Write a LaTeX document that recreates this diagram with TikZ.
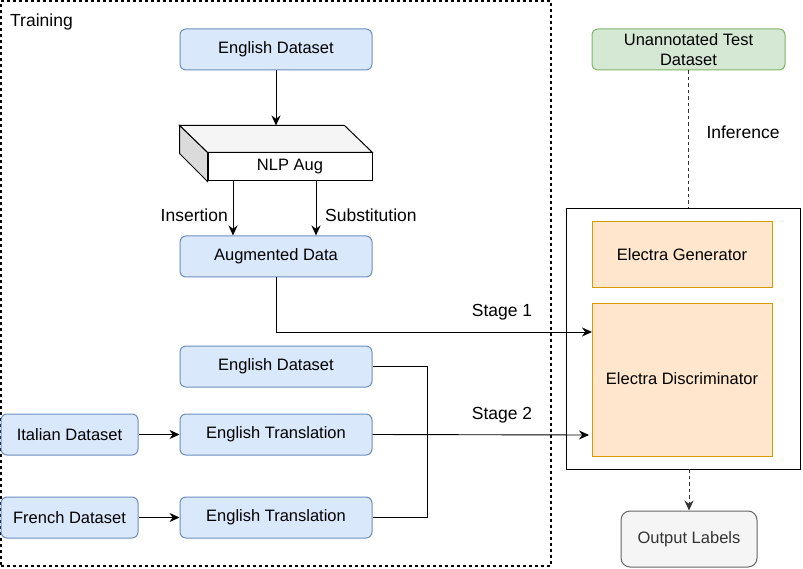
\documentclass[tikz,border=0pt]{standalone}
\usepackage{fontspec}
\setmainfont{Liberation Sans}
\usetikzlibrary{arrows.meta}
\definecolor{blueFill}{HTML}{DAE8FC}
\definecolor{blueLine}{HTML}{6C8EBF}
\definecolor{orangeFill}{HTML}{FFE6CC}
\definecolor{orangeLine}{HTML}{D79B00}
\definecolor{greenFill}{HTML}{D5E8D4}
\definecolor{greenLine}{HTML}{82B366}
\definecolor{greyFill}{HTML}{F5F5F5}
\definecolor{greyLine}{HTML}{666666}
\tikzset{
  databox/.style={draw=blueLine, fill=blueFill, rounded corners=6pt, line width=1pt,
    minimum width=192pt, minimum height=41pt, inner sep=0pt, font=\fontsize{16.5}{19}\selectfont},
  smallbox/.style={databox, minimum width=137pt},
  electrabox/.style={draw=orangeLine, fill=orangeFill, line width=1pt, minimum width=180pt,
    inner sep=0pt, font=\fontsize{16.5}{19}\selectfont},
  lbl/.style={inner sep=0pt, font=\fontsize{17.5}{20}\selectfont},
  arr/.style={line width=0.9pt, -{Stealth[length=10pt,width=9pt]}},
  link/.style={line width=0.9pt},
  dashline/.style={line width=1.5pt, draw=black!80, dash pattern=on 3.5pt off 3pt}
}
\begin{document}
\begin{tikzpicture}[x=1pt, y=-1pt]
			\useasboundingbox (0,0) rectangle (803,569);
			
			%%%%% TRAINING %%%%%
			\node[draw, line width=1.3pt, dash pattern=on 3pt off 3pt, minimum width=550pt, minimum height=565pt, inner sep=0pt] (train) at (276,283.5) {};
			\node[lbl, anchor=north west] (trainlbl) at (10,14) {Training};
			
			\node[databox] (en1) at (276,49.5) {English Dataset};
			
			\node[draw, fill=white, line width=1pt, minimum width=164pt, minimum height=28pt, inner sep=0pt, font=\fontsize{16.5}{19}\selectfont] (nlp) at (290,167) {NLP Aug};
			\draw[line width=1pt, fill=black!4] (nlp.north west) -- ++(-28,-27) -- ++(165,0) -- (nlp.north east) -- cycle;
			\draw[line width=1pt, fill=black!14] (nlp.north west) -- ++(-28,-27) -- ++(0,28) -- (nlp.south west) -- cycle;
			\coordinate (nlptop) at ([xshift=-14pt, yshift=27pt]nlp.north);
			
			\node[databox] (aug) at (276,256.5) {Augmented Data};
			
			\draw[arr] (en1.south) -- (nlptop);
			\draw[arr] ([xshift=-57pt]nlp.south) -- ([xshift=-57pt]nlp.south |- aug.north);
			\draw[arr] ([xshift=26pt]nlp.south) -- ([xshift=26pt]nlp.south |- aug.north);
			\node[lbl, anchor=east] (inslbl) at (228,215) {Insertion};
			\node[lbl, anchor=west] (sublbl) at (325,215) {Substitution};
			
			\node[databox] (en2) at (276,366.5) {English Dataset};
			\node[smallbox] (ita) at (69.5,434.5) {Italian Dataset};
			\node[databox] (tr1) at (276,434.5) {English Translation};
			\node[smallbox] (fre) at (69.5,517.5) {French Dataset};
			\node[databox] (tr2) at (276,517.5) {English Translation};
			
			\draw[arr] (ita) -- (tr1);
			\draw[arr] (fre) -- (tr2);
			\draw[link] (en2.east) -- ++(55,0) |- (tr2.east);
			
			%%%%% MODEL %%%%%
			\node[draw, line width=0.9pt, minimum width=234pt, minimum height=261pt, inner sep=0pt] (model) at (683,338.5) {};
			\node[electrabox, minimum height=66pt] (gen) at (682,255) {Electra Generator};
			\node[electrabox, minimum height=152pt] (disc) at (682,380) {};
			\node[inner sep=0pt, font=\fontsize{16.5}{19}\selectfont] (disclbl) at (682,379) {Electra Discriminator};
			
			\coordinate (s1end) at (592,332);
			\coordinate (s2end) at (589,435);
			\draw[arr] (aug.south) |- (s1end);
			\draw[arr] (tr1.east) -- (s2end);
			\node[lbl] (s1lbl) at (502,312) {Stage 1};
			\node[lbl] (s2lbl) at (502,415) {Stage 2};
			
			%%%%% INFERENCE %%%%%
			\node[draw=greenLine, fill=greenFill, rounded corners=6pt, line width=1pt, minimum width=193pt, minimum height=41pt, inner sep=0pt, align=center, font=\fontsize{16.5}{19.5}\selectfont] (test) at (688.5,49.5) {Unannotated Test\\Dataset};
			\node[draw=greyLine, fill=greyFill, text=black!80, rounded corners=9pt, line width=1pt, minimum width=136pt, minimum height=56pt, inner sep=0pt, font=\fontsize{16.5}{19}\selectfont] (out) at (689,539) {Output Labels};
			
			\draw[dashline] (test.south) -- (test.south |- model.north);
			\draw[dashline, arr, draw=black!80] (out.north |- model.south) -- (out.north);
			\node[lbl] (inflbl) at (743,132) {Inference};
			
\end{tikzpicture}
\end{document}
